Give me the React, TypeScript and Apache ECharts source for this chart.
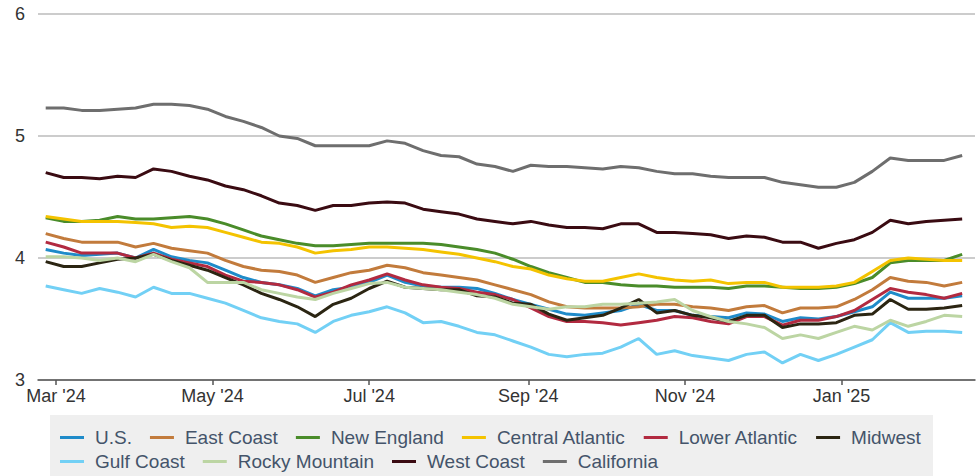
import React, { useEffect, useRef } from "react";
import * as echarts from "echarts";

const weeks = [
  "2024-02-26", "2024-03-04", "2024-03-11", "2024-03-18", "2024-03-25",
  "2024-04-01", "2024-04-08", "2024-04-15", "2024-04-22", "2024-04-29",
  "2024-05-06", "2024-05-13", "2024-05-20", "2024-05-27",
  "2024-06-03", "2024-06-10", "2024-06-17", "2024-06-24",
  "2024-07-01", "2024-07-08", "2024-07-15", "2024-07-22", "2024-07-29",
  "2024-08-05", "2024-08-12", "2024-08-19", "2024-08-26",
  "2024-09-02", "2024-09-09", "2024-09-16", "2024-09-23", "2024-09-30",
  "2024-10-07", "2024-10-14", "2024-10-21", "2024-10-28",
  "2024-11-04", "2024-11-11", "2024-11-18", "2024-11-25",
  "2024-12-02", "2024-12-09", "2024-12-16", "2024-12-23", "2024-12-30",
  "2025-01-06", "2025-01-13", "2025-01-20", "2025-01-27",
  "2025-02-03", "2025-02-10", "2025-02-17",
];

const us = [4.07, 4.04, 4.02, 4.03, 4.04, 4.0, 4.07, 4.01, 3.98, 3.96, 3.9, 3.84, 3.8, 3.78, 3.75, 3.69, 3.74, 3.76, 3.8, 3.86, 3.8, 3.77, 3.76, 3.76, 3.75, 3.71, 3.66, 3.62, 3.58, 3.54, 3.53, 3.55, 3.57, 3.62, 3.57, 3.57, 3.53, 3.52, 3.51, 3.55, 3.54, 3.48, 3.51, 3.5, 3.52, 3.56, 3.6, 3.72, 3.67, 3.67, 3.67, 3.69];
const eastCoast = [4.2, 4.16, 4.13, 4.13, 4.13, 4.09, 4.12, 4.08, 4.06, 4.04, 3.98, 3.93, 3.9, 3.89, 3.86, 3.8, 3.84, 3.88, 3.9, 3.94, 3.92, 3.88, 3.86, 3.84, 3.82, 3.78, 3.74, 3.7, 3.64, 3.6, 3.59, 3.59, 3.59, 3.6, 3.62, 3.62, 3.6, 3.59, 3.57, 3.6, 3.61, 3.55, 3.59, 3.59, 3.6, 3.66, 3.74, 3.84, 3.81, 3.8, 3.77, 3.8];
const newEngland = [4.33, 4.3, 4.3, 4.31, 4.34, 4.32, 4.32, 4.33, 4.34, 4.32, 4.28, 4.23, 4.18, 4.15, 4.12, 4.1, 4.1, 4.11, 4.12, 4.12, 4.12, 4.12, 4.11, 4.09, 4.07, 4.04, 3.99, 3.93, 3.88, 3.84, 3.8, 3.8, 3.78, 3.77, 3.77, 3.76, 3.76, 3.76, 3.75, 3.77, 3.77, 3.76, 3.75, 3.75, 3.76, 3.79, 3.84, 3.96, 3.98, 3.98, 3.98, 4.03];
const centralAtlantic = [4.34, 4.32, 4.3, 4.3, 4.3, 4.29, 4.28, 4.25, 4.26, 4.25, 4.21, 4.17, 4.13, 4.12, 4.09, 4.04, 4.06, 4.07, 4.09, 4.09, 4.08, 4.07, 4.05, 4.03, 4.0, 3.97, 3.93, 3.91, 3.86, 3.83, 3.81, 3.81, 3.84, 3.87, 3.84, 3.82, 3.81, 3.82, 3.79, 3.8, 3.8, 3.76, 3.76, 3.76, 3.77, 3.8, 3.89, 3.98, 4.0, 3.99, 3.98, 3.98];
const lowerAtlantic = [4.13, 4.09, 4.04, 4.04, 4.04, 4.0, 4.04, 3.99, 3.96, 3.93, 3.86, 3.81, 3.8, 3.78, 3.74, 3.68, 3.72, 3.78, 3.82, 3.87, 3.82, 3.78, 3.76, 3.75, 3.72, 3.7, 3.66, 3.59, 3.52, 3.48, 3.48, 3.47, 3.45, 3.47, 3.49, 3.52, 3.51, 3.48, 3.46, 3.52, 3.52, 3.45, 3.49, 3.49, 3.52, 3.57, 3.66, 3.75, 3.72, 3.7, 3.67, 3.71];
const midwest = [3.97, 3.93, 3.93, 3.96, 3.99, 4.0, 4.03, 3.98, 3.94, 3.9, 3.84, 3.78, 3.71, 3.66, 3.6, 3.52, 3.62, 3.67, 3.75, 3.81, 3.76, 3.75, 3.74, 3.74, 3.69, 3.68, 3.63, 3.62, 3.54, 3.49, 3.51, 3.53, 3.59, 3.66, 3.55, 3.57, 3.53, 3.51, 3.48, 3.53, 3.53, 3.43, 3.46, 3.46, 3.47, 3.53, 3.54, 3.66, 3.58, 3.58, 3.59, 3.61];
const gulfCoast = [3.77, 3.74, 3.71, 3.75, 3.72, 3.68, 3.76, 3.71, 3.71, 3.67, 3.63, 3.57, 3.51, 3.48, 3.46, 3.39, 3.48, 3.53, 3.56, 3.6, 3.55, 3.47, 3.48, 3.44, 3.39, 3.37, 3.32, 3.27, 3.21, 3.19, 3.21, 3.22, 3.27, 3.34, 3.21, 3.24, 3.2, 3.18, 3.16, 3.21, 3.23, 3.14, 3.21, 3.16, 3.21, 3.27, 3.33, 3.47, 3.39, 3.4, 3.4, 3.39];
const rockyMountain = [4.01, 4.01, 4.0, 3.98, 4.0, 3.97, 4.03, 3.97, 3.92, 3.8, 3.8, 3.8, 3.74, 3.71, 3.68, 3.66, 3.71, 3.75, 3.79, 3.8, 3.76, 3.75, 3.74, 3.72, 3.7, 3.67, 3.62, 3.6, 3.58, 3.6, 3.6, 3.62, 3.62, 3.63, 3.64, 3.66, 3.57, 3.52, 3.48, 3.46, 3.43, 3.34, 3.37, 3.34, 3.39, 3.44, 3.41, 3.49, 3.44, 3.48, 3.53, 3.52];
const westCoast = [4.7, 4.66, 4.66, 4.65, 4.67, 4.66, 4.73, 4.71, 4.67, 4.64, 4.59, 4.56, 4.51, 4.45, 4.43, 4.39, 4.43, 4.43, 4.45, 4.46, 4.45, 4.4, 4.38, 4.36, 4.32, 4.3, 4.28, 4.3, 4.27, 4.25, 4.25, 4.24, 4.28, 4.28, 4.21, 4.21, 4.2, 4.19, 4.16, 4.18, 4.17, 4.13, 4.13, 4.08, 4.12, 4.15, 4.21, 4.31, 4.28, 4.3, 4.31, 4.32];
const california = [5.23, 5.23, 5.21, 5.21, 5.22, 5.23, 5.26, 5.26, 5.25, 5.22, 5.16, 5.12, 5.07, 5.0, 4.98, 4.92, 4.92, 4.92, 4.92, 4.96, 4.94, 4.88, 4.84, 4.83, 4.77, 4.75, 4.71, 4.76, 4.75, 4.75, 4.74, 4.73, 4.75, 4.74, 4.71, 4.69, 4.69, 4.67, 4.66, 4.66, 4.66, 4.62, 4.6, 4.58, 4.58, 4.62, 4.71, 4.82, 4.8, 4.8, 4.8, 4.84];

const seriesNames = ["U.S.", "East Coast", "New England", "Central Atlantic", "Lower Atlantic", "Midwest", "Gulf Coast", "Rocky Mountain", "West Coast", "California"];
const seriesValues = [us, eastCoast, newEngland, centralAtlantic, lowerAtlantic, midwest, gulfCoast, rockyMountain, westCoast, california];
const seriesColors = ["#1f8bc9", "#c27b3c", "#4a8c2a", "#f4c300", "#b22a40", "#2b2512", "#72d0f5", "#bcd5a3", "#3a0b12", "#6e6e6e"];

const legendRow1 = ["U.S.", "East Coast", "New England", "Central Atlantic", "Lower Atlantic", "Midwest"];
const legendRow2 = ["Gulf Coast", "Rocky Mountain", "West Coast", "California"];

const tickDates = ["2024-03-01", "2024-05-01", "2024-07-01", "2024-09-01", "2024-11-01", "2025-01-01"];
const tickLabels = ["Mar '24", "May '24", "Jul '24", "Sep '24", "Nov '24", "Jan '25"];
const yTicks = [3, 4, 5, 6];

const FONT = "'Liberation Sans', Arial, Helvetica, sans-serif";

const toTime = (s: string) => {
  const p = s.split("-").map(Number);
  return Date.UTC(p[0], p[1] - 1, p[2]);
};

export default function App() {
  const ref = useRef<HTMLDivElement>(null);
  useEffect(() => {
    document.body.style.margin = "0";
    if (!ref.current) return;
    const chart = echarts.init(ref.current, undefined, { renderer: "svg" });
    const tickValues = tickDates.map(toTime);
    const legendCommon = {
      orient: "horizontal" as const,
      left: 60,
      padding: 0,
      itemGap: 18,
      itemWidth: 24,
      itemHeight: 3,
      icon: "rect",
      selectedMode: false,
      textStyle: { fontSize: 19, color: "#44546a", fontFamily: FONT, padding: [0, 0, 0, 6] },
    };
    chart.setOption({
      animation: false,
      backgroundColor: "#ffffff",
      textStyle: { fontFamily: FONT },
      grid: { left: 38, right: 4, top: 14, bottom: 96, containLabel: false },
      xAxis: {
        type: "value",
        min: toTime("2024-02-23"),
        max: toTime("2025-02-22"),
        axisLine: { show: true, lineStyle: { color: "#555555", width: 1.5 } },
        axisTick: { show: true, customValues: tickValues, length: 5, lineStyle: { color: "#555555", width: 1.5 } },
        axisLabel: {
          customValues: tickValues,
          fontSize: 18,
          color: "#333333",
          fontFamily: FONT,
          margin: 7,
          formatter: (v: number) => {
            const idx = tickValues.findIndex((t) => Math.abs(t - v) < 86400000);
            return idx >= 0 ? tickLabels[idx] : "";
          },
        },
        splitLine: { show: false },
      },
      yAxis: {
        type: "value",
        min: yTicks[0],
        max: yTicks[yTicks.length - 1],
        interval: 1,
        axisLine: { show: false },
        axisTick: { show: false },
        axisLabel: { fontSize: 18, color: "#333333", fontFamily: FONT, margin: 13 },
        splitLine: { show: true, lineStyle: { color: "#cccccc", width: 2 } },
      },
      legend: [
        { ...legendCommon, top: 428, data: legendRow1 },
        { ...legendCommon, top: 452, data: legendRow2 },
      ],
      graphic: [
        {
          type: "rect",
          z: -1,
          shape: { x: 50, y: 415, width: 883, height: 80 },
          style: { fill: "#efefef" },
          silent: true,
        },
      ],
      series: seriesNames.map((name, i) => ({
        name,
        type: "line",
        symbol: "none",
        color: seriesColors[i],
        lineStyle: { width: 3, color: seriesColors[i] },
        data: weeks.map((w, j) => [toTime(w), seriesValues[i][j]]),
      })),
    });
    return () => chart.dispose();
  }, []);
  return <div ref={ref} style={{ width: 979, height: 476 }} />;
}
